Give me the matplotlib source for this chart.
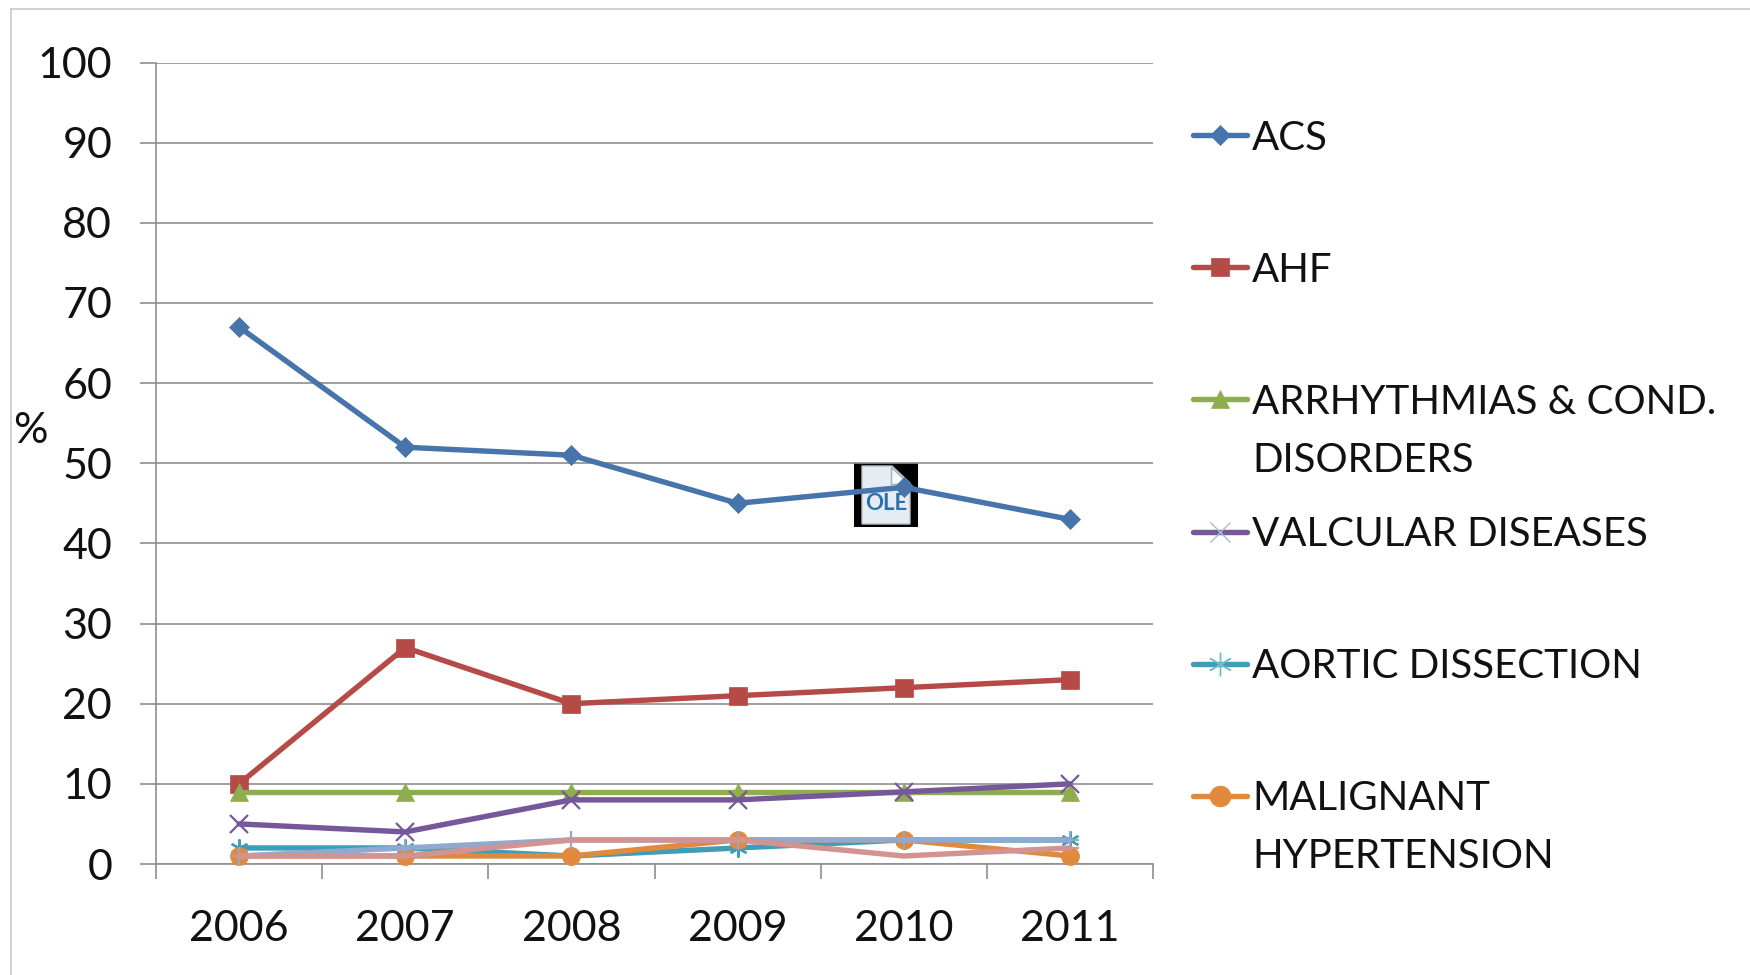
import matplotlib
matplotlib.use("Agg")
import matplotlib.pyplot as plt
from matplotlib.lines import Line2D
from matplotlib.patches import Rectangle, Polygon

W, H = 1750, 975
years = ["2006", "2007", "2008", "2009", "2010", "2011"]
yticks = list(range(0, 101, 10))
acs = [67, 52, 51, 45, 47, 43]
ahf = [10, 27, 20, 21, 22, 23]
arrhythmias = [9, 9, 9, 9, 9, 9]
vascular = [5, 4, 8, 8, 9, 10]
aortic = [2, 2, 1, 2, 3, 3]
malignant = [1, 1, 1, 3, 3, 1]
other_a = [1, 2, 3, 3, 3, 3]
other_b = [1, 1, 3, 3, 1, 2]

labels = ["ACS", "AHF", "ARRHYTHMIAS & COND.\nDISORDERS", "VALCULAR DISEASES",
          "AORTIC DISSECTION", "MALIGNANT\nHYPERTENSION"]
series = [acs, ahf, arrhythmias, vascular, aortic, malignant, other_a, other_b]
colors = ["#4674AB", "#B54A47", "#8EAD4F", "#75589A", "#3F9DB5", "#E1893C", "#8FA9D0", "#D39391"]
markers = ["D", "s", "^", "x", (6, 2, 0), "o", "+", "_"]
sizes = [10, 13, 13, 13, 13, 13, 13, 13]
legend_sizes = [10, 13, 13, 15, 17, 15]
legend_y = [138, 270, 402, 535, 667, 799]

FONT = "Lato"
FS = 29
TICK_FS = 31
plt.rcParams["font.family"] = FONT

fig = plt.figure(figsize=(W / 100, H / 100), dpi=100, facecolor="white")

def px_axes(l, t, r, b, **kw):
    return fig.add_axes([l / W, 1 - b / H, (r - l) / W, (b - t) / H], **kw)

# embedded-object icon sits behind the chart lines
icon = px_axes(854, 463, 918, 527, zorder=0)
icon.set_xlim(0, 64); icon.set_ylim(64, 0); icon.axis("off")
icon.add_patch(Rectangle((0, 0), 64, 64, fc="black", ec="none"))
icon.add_patch(Polygon([(8, 3), (38, 3), (56, 20), (56, 61), (8, 61)], fc="#E6ECF3", ec="#B9C0C8", lw=1))
icon.add_patch(Polygon([(37, 4), (37, 21), (55, 21)], fc="#F7F8FA", ec="#A8AEB6", lw=1))
icon.text(32, 41, "OLE", color="#2A6FAE", ha="center", va="center", fontsize=16, fontweight="bold")

ax = px_axes(156, 62.5, 1153, 864, zorder=1)
ax.patch.set_visible(False)
xs = list(range(len(years)))
for i, (vals, c, m, s) in enumerate(zip(series, colors, markers, sizes)):
    thin = i >= 3 and m != "o"
    ax.plot(xs, vals, color=c, lw=3.9, marker=m, ms=s, mfc=c, mec=c,
            mew=1.6 if thin else 0.5, zorder=3 + i, clip_on=False, solid_capstyle="round")

ax.set_xlim(-0.5, 5.5)
ax.set_ylim(0, 100)
ax.set_yticks(yticks)
ax.set_yticklabels([str(v) for v in yticks])
ax.set_xticks([i - 0.5 for i in range(7)])
ax.set_xticklabels([])
ax.set_xticks(xs, minor=True)
ax.set_xticklabels(years, minor=True)
GC = "#8E8E8E"
ax.grid(axis="y", color=GC, lw=1.2, zorder=1)
ax.set_axisbelow(True)
for sp in ("top", "right"):
    ax.spines[sp].set_visible(False)
for sp in ("left", "bottom"):
    ax.spines[sp].set_color(GC)
    ax.spines[sp].set_linewidth(1.2)
ax.tick_params(axis="y", which="major", length=11.5, width=1.2, color=GC, pad=20, labelsize=TICK_FS, labelcolor="#111111")
ax.tick_params(axis="x", which="major", length=11, width=1.2, color=GC)
ax.tick_params(axis="x", which="minor", length=0, pad=33, labelsize=TICK_FS, labelcolor="#111111")

fig.text(30 / W, 1 - 431 / H, "%", ha="center", va="center", fontsize=TICK_FS, color="#111111")

# one legend per entry, spaced like the reference
fs_px = FS * 100 / 72
for i, (lab, y) in enumerate(zip(labels, legend_y)):
    first, *rest = lab.split("\n")
    thin = i in (3, 4)
    h = Line2D([], [], color=colors[i], lw=3.9, marker=markers[i],
               ms=legend_sizes[i], mfc=colors[i],
               mec="#A9B9D6" if i == 3 else "#6FBBD0" if i == 4 else colors[i],
               mew=1.0 if thin else 0.5, solid_capstyle="round")
    leg = fig.legend([h], [first], loc="center left", bbox_to_anchor=(1193 / W, 1 - y / H),
                     bbox_transform=fig.transFigure, frameon=False, fontsize=FS,
                     borderpad=0, borderaxespad=0, handlelength=54 / fs_px,
                     handletextpad=5 / fs_px, labelcolor="#111111")
    for r in rest:
        fig.text(1252 / W, 1 - (y + 58) / H, r, ha="left", va="center", fontsize=FS, color="#111111")

# pale frame of the pasted picture
fig.add_artist(Line2D([11 / W, 11 / W], [0, 1 - 9 / H], color="#C8C8C8", lw=1.2))
fig.add_artist(Line2D([11 / W, 1], [1 - 9 / H, 1 - 9 / H], color="#C8C8C8", lw=1.2))

fig.savefig("out.png", dpi=100, facecolor="white")
